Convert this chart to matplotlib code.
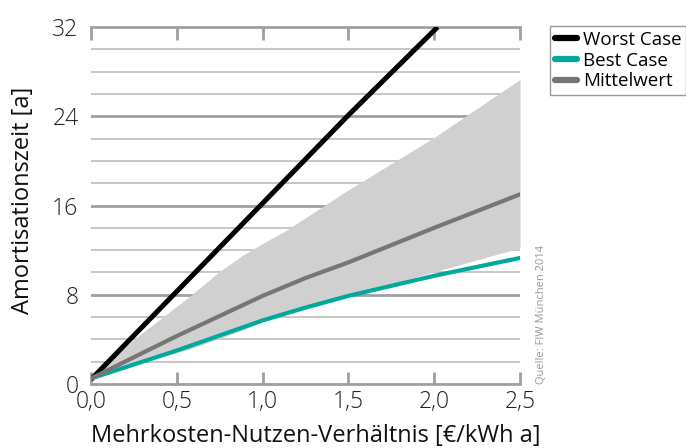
import matplotlib
matplotlib.use("Agg")
import matplotlib.pyplot as plt

plt.rcParams['font.family'] = ['Open Sans', 'DejaVu Sans']

# Data
x_worst = [0.0, 0.5, 1.0, 1.5, 2.02]
y_worst = [0.4, 8.3, 16.2, 24.1, 32.0]

x_pts = [0.0, 0.5, 1.0, 1.25, 1.5, 2.0, 2.5]
y_best = [0.5, 3.0, 5.7, 6.85, 7.9, 9.7, 11.3]
y_mean = [0.5, 4.3, 7.9, 9.5, 10.9, 14.0, 17.0]

x_band = [0.0, 0.25, 0.57, 0.75, 0.88, 1.0, 1.13, 1.5, 2.0, 2.5]
band_upper = [0.5, 4.0, 7.8, 10.1, 11.5, 12.6, 13.7, 17.4, 22.1, 27.3]
band_lower = [0.5, 1.8, 3.1, 4.1, 4.8, 5.6, 6.2, 7.9, 10.05, 12.2]

x_ticks = [0.0, 0.5, 1.0, 1.5, 2.0, 2.5]
x_ticklabels = ['0,0', '0,5', '1,0', '1,5', '2,0', '2,5']
y_ticks = [0, 8, 16, 24, 32]

fig = plt.figure(figsize=(6.86, 4.48), dpi=100)
ax = fig.add_axes([91/686, 64/448, 429/686, 357/448])

ax.set_xlim(0, 2.5)
ax.set_ylim(0, 32)

# gridlines
for yv in range(2, 32, 2):
    if yv % 8 == 0:
        ax.axhline(yv, color='#a0a0a0', lw=2.0, zorder=0)
    else:
        ax.axhline(yv, color='#b8b8b8', lw=1.1, zorder=0)

ax.fill_between(x_band, band_lower, band_upper, color='#d0d0d0', lw=0, zorder=1)

ax.plot(x_worst, y_worst, color='#000000', lw=3.6, solid_capstyle='butt', zorder=3, label='Worst Case')
ax.plot(x_pts, y_best, color='#00a99d', lw=3.0, solid_capstyle='round', zorder=3, label='Best Case')
ax.plot(x_pts, y_mean, color='#767676', lw=3.0, solid_capstyle='round', zorder=3, label='Mittelwert')

for s in ['left', 'right']:
    ax.spines[s].set_visible(False)
for s in ['top', 'bottom']:
    ax.spines[s].set_color('#a0a0a0')
    ax.spines[s].set_linewidth(2.0)

ax.set_xticks(x_ticks)
ax.set_xticklabels(x_ticklabels)
ax.set_yticks(y_ticks)
ax.tick_params(axis='x', direction='in', length=9, width=2, color='#a0a0a0',
               top=True, bottom=True, labelsize=16.5, pad=4, labelcolor='#222222')
ax.tick_params(axis='y', length=0, labelsize=16.5, pad=9, labelcolor='#222222')
for lab in ax.get_xticklabels() + ax.get_yticklabels():
    lab.set_fontweight('light')

ax.set_xlabel('Mehrkosten-Nutzen-Verhältnis [€/kWh a]', fontsize=17, color='#111111')
ax.set_ylabel('Amortisationszeit [a]', fontsize=17, color='#111111')
ax.xaxis.set_label_coords(0.524, -0.112)
ax.yaxis.set_label_coords(-0.13, 0.515)

leg = fig.legend(loc='upper left', bbox_to_anchor=(550/686, 1 - 26/448), fontsize=13.5,
                 frameon=True, fancybox=False, edgecolor='#808080', handlelength=1.2,
                 handletextpad=0.3, borderpad=0.25, labelspacing=0.15, borderaxespad=0)
leg.get_frame().set_linewidth(1.0)
for line in leg.get_lines():
    line.set_linewidth(4.5)
    line.set_solid_capstyle('round')

fig.text(541/686, 64/448, 'Quelle: FIW München 2014', rotation=90, fontsize=8,
         color='#999999', ha='center', va='bottom')

fig.savefig('out.png', dpi=100)
